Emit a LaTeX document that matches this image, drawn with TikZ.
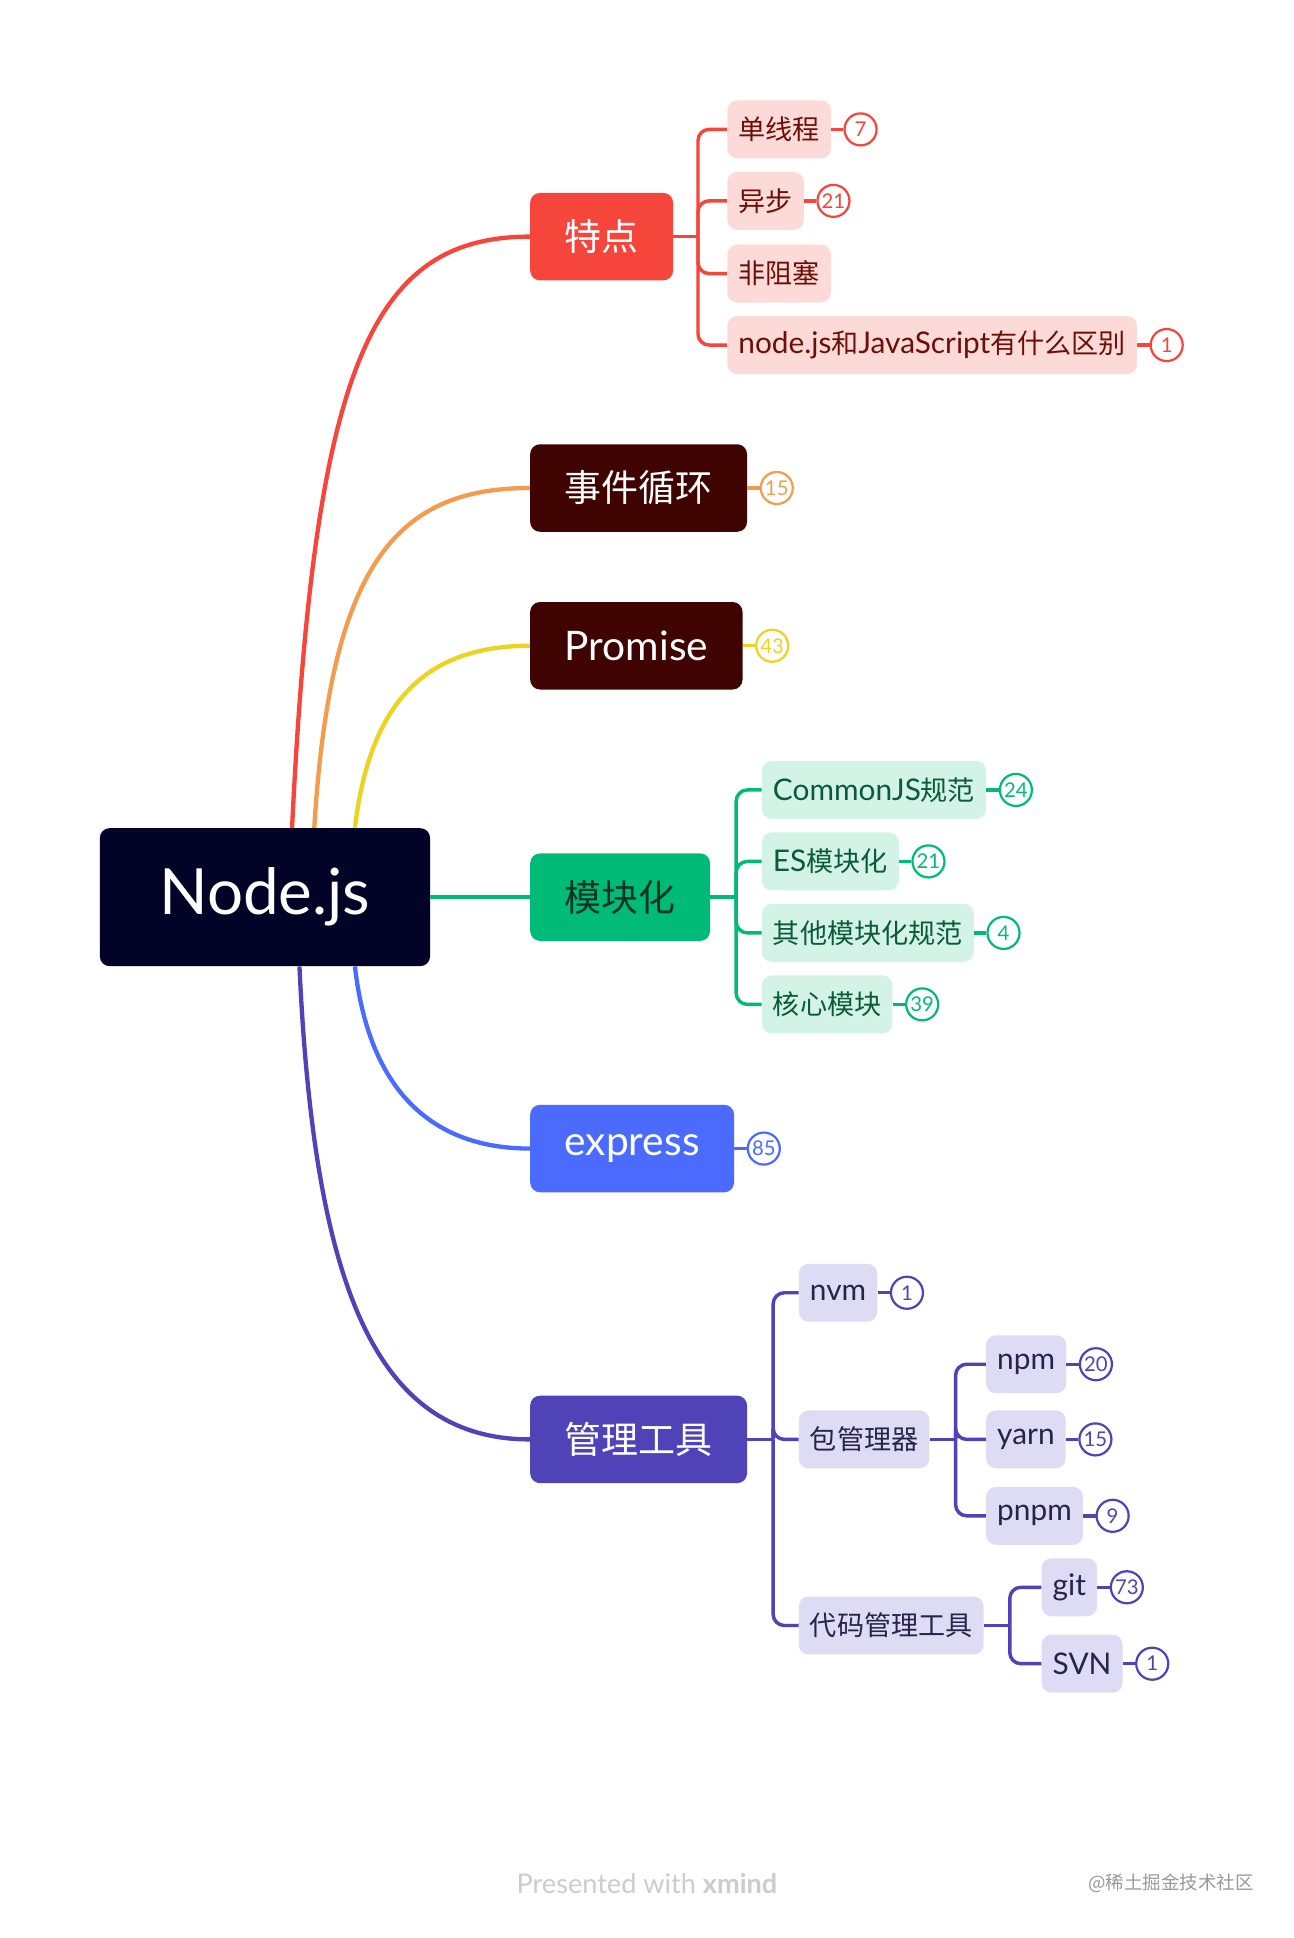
\documentclass[tikz,border=0pt]{standalone}
\usepackage{fontspec}
\setmainfont[Scale=1.1]{Lato}
\newfontfamily\cjk{Noto Sans CJK SC}
\usetikzlibrary{positioning}
\definecolor{rootbg}{HTML}{020427}
\definecolor{redmain}{HTML}{F6453B}
\definecolor{redlite}{HTML}{FCDAD7}
\definecolor{redtext}{HTML}{6E0E08}
\definecolor{orangeline}{HTML}{F39C4E}
\definecolor{yellowline}{HTML}{EDD320}
\definecolor{maroon}{HTML}{3F0401}
\definecolor{greenmain}{HTML}{00BB78}
\definecolor{greenlite}{HTML}{D2F3E5}
\definecolor{greentext}{HTML}{0B5B3B}
\definecolor{greendark}{HTML}{0D3324}
\definecolor{bluemain}{HTML}{4A6BFD}
\definecolor{purplemain}{HTML}{5043B8}
\definecolor{purplelite}{HTML}{DEDBF5}
\definecolor{purpletext}{HTML}{26244A}
\tikzstyle{mainbox}=[rounded corners=8pt, inner xsep=28pt, minimum height=71pt, anchor=west, font=\fontsize{30pt}{36pt}\selectfont]
\tikzstyle{subbox}=[rounded corners=8pt, inner xsep=9pt, minimum height=47pt, anchor=west, font=\fontsize{22pt}{26pt}\selectfont]
\tikzstyle{numbadge}=[circle, draw, line width=1.8pt, fill=white, minimum size=26pt, inner sep=0pt, font=\fontsize{15pt}{15pt}\selectfont]
\tikzstyle{branch}=[draw, line width=3.5pt]
\tikzstyle{twig}=[draw, line width=2.8pt, rounded corners=9pt]

\begin{document}
\begin{tikzpicture}[x=1pt, y=-1pt]

  \fill[white] (0,0) rectangle (1050,1572.6);
  \useasboundingbox (0,0) rectangle (1050,1572.6);

  \node[fill=rootbg, text=white, rounded corners=8pt, minimum width=268pt, minimum height=112pt, font=\fontsize{47pt}{56pt}\selectfont] (nodejs) at (215,728) {Node.js};

  \node[mainbox, fill=redmain, text=white] (tedian) at (430,192) {\cjk 特点};
  \node[mainbox, fill=maroon, text=white] (xunhuan) at (430,396) {\cjk 事件循环};
  \node[mainbox, fill=maroon, text=white] (promise) at (430,524) {Promise};
  \node[mainbox, fill=greenmain, text=greendark] (mokuai) at (430,728) {\cjk 模块化};
  \node[mainbox, fill=bluemain, text=white] (express) at (430,932) {express};
  \node[mainbox, fill=purplemain, text=white] (guanli) at (430,1168) {\cjk 管理工具};

  \draw[branch, redmain] ([xshift=22pt]nodejs.north) .. controls (255,300) and (300,192) .. (tedian.west);
  \draw[branch, orangeline] ([xshift=40pt]nodejs.north) .. controls (268,460) and (320,396) .. (xunhuan.west);
  \draw[branch, yellowline] ([xshift=73pt]nodejs.north) .. controls (300,570) and (345,524) .. (promise.west);
  \draw[branch, greenmain] (nodejs) -- (mokuai);
  \draw[branch, bluemain] ([xshift=73pt]nodejs.south) .. controls (300,890) and (355,932) .. (express.west);
  \draw[branch, purplemain] ([xshift=28pt]nodejs.south) .. controls (255,1045) and (305,1168) .. (guanli.west);

  \node[numbadge, draw=orangeline, text=orangeline, right=10pt of xunhuan] (xunhuan-n) {15};
  \node[numbadge, draw=yellowline, text=yellowline, right=10pt of promise] (promise-n) {43};
  \node[numbadge, draw=bluemain, text=bluemain, right=10pt of express] (express-n) {85};
  \draw[twig, orangeline] (xunhuan) -- (xunhuan-n);
  \draw[twig, yellowline] (promise) -- (promise-n);
  \draw[twig, bluemain] (express) -- (express-n);

  \node[subbox, fill=redlite, text=redtext] (danxian) at (590,105) {\cjk 单线程};
  \node[subbox, fill=redlite, text=redtext] (yibu) at (590,163) {\cjk 异步};
  \node[subbox, fill=redlite, text=redtext] (feizuse) at (590,222) {\cjk 非阻塞};
  \node[subbox, fill=redlite, text=redtext] (qubie) at (590,280) {node.js{\cjk 和}JavaScript{\cjk 有什么区别}};
  \node[numbadge, draw=redmain, text=redmain, right=10pt of danxian] (danxian-n) {7};
  \node[numbadge, draw=redmain, text=redmain, right=10pt of yibu] (yibu-n) {21};
  \node[numbadge, draw=redmain, text=redmain, right=10pt of qubie] (qubie-n) {1};
  \coordinate (tdspine) at ([xshift=20pt]tedian.east);
  \draw[twig, redmain] (tedian) -- (tdspine);
  \foreach \c in {danxian,yibu,feizuse,qubie}
    \draw[twig, redmain] (tdspine) |- (\c.west);
  \foreach \c in {danxian,yibu,qubie}
    \draw[twig, redmain] (\c) -- (\c-n);

  \node[subbox, fill=greenlite, text=greentext] (commonjs) at (618,641) {CommonJS{\cjk 规范}};
  \node[subbox, fill=greenlite, text=greentext] (esmod) at (618,699) {ES{\cjk 模块化}};
  \node[subbox, fill=greenlite, text=greentext] (qita) at (618,757) {\cjk 其他模块化规范};
  \node[subbox, fill=greenlite, text=greentext] (hexin) at (618,815) {\cjk 核心模块};
  \node[numbadge, draw=greenmain, text=greenmain, right=10pt of commonjs] (commonjs-n) {24};
  \node[numbadge, draw=greenmain, text=greenmain, right=10pt of esmod] (esmod-n) {21};
  \node[numbadge, draw=greenmain, text=greenmain, right=10pt of qita] (qita-n) {4};
  \node[numbadge, draw=greenmain, text=greenmain, right=10pt of hexin] (hexin-n) {39};
  \coordinate (mkspine) at ([xshift=21pt]mokuai.east);
  \draw[twig, greenmain] (mokuai) -- (mkspine);
  \foreach \c in {commonjs,esmod,qita,hexin} {
    \draw[twig, greenmain] (mkspine) |- (\c.west);
    \draw[twig, greenmain] (\c) -- (\c-n);
  }

  \node[subbox, fill=purplelite, text=purpletext] (nvm) at (648,1049) {nvm};
  \node[subbox, fill=purplelite, text=purpletext] (baoguanli) at (648,1168) {\cjk 包管理器};
  \node[subbox, fill=purplelite, text=purpletext] (daima) at (648,1319) {\cjk 代码管理工具};
  \node[subbox, fill=purplelite, text=purpletext] (npm) at (800,1107) {npm};
  \node[subbox, fill=purplelite, text=purpletext] (yarn) at (800,1168) {yarn};
  \node[subbox, fill=purplelite, text=purpletext] (pnpm) at (800,1230) {pnpm};
  \node[subbox, fill=purplelite, text=purpletext] (git) at (845,1288) {git};
  \node[subbox, fill=purplelite, text=purpletext] (svn) at (845,1350) {SVN};
  \node[numbadge, draw=purplemain, text=purplemain, right=10pt of nvm] (nvm-n) {1};
  \node[numbadge, draw=purplemain, text=purplemain, right=10pt of npm] (npm-n) {20};
  \node[numbadge, draw=purplemain, text=purplemain, right=10pt of yarn] (yarn-n) {15};
  \node[numbadge, draw=purplemain, text=purplemain, right=10pt of pnpm] (pnpm-n) {9};
  \node[numbadge, draw=purplemain, text=purplemain, right=10pt of git] (git-n) {73};
  \node[numbadge, draw=purplemain, text=purplemain, right=10pt of svn] (svn-n) {1};
  \coordinate (glspine) at ([xshift=21pt]guanli.east);
  \coordinate (bgspine) at ([xshift=21pt]baoguanli.east);
  \coordinate (dmspine) at ([xshift=21pt]daima.east);
  \draw[twig, purplemain] (guanli) -- (glspine);
  \draw[twig, purplemain] (baoguanli) -- (bgspine);
  \draw[twig, purplemain] (daima) -- (dmspine);
  \foreach \c in {nvm,baoguanli,daima}
    \draw[twig, purplemain] (glspine) |- (\c.west);
  \foreach \c in {npm,yarn,pnpm}
    \draw[twig, purplemain] (bgspine) |- (\c.west);
  \foreach \c in {git,svn}
    \draw[twig, purplemain] (dmspine) |- (\c.west);
  \foreach \c in {nvm,npm,yarn,pnpm,git,svn}
    \draw[twig, purplemain] (\c) -- (\c-n);

  \node[text=black!20, font=\fontsize{20pt}{24pt}\selectfont] (credit) at (525,1528) {Presented with \textbf{xmind}};
  \node[anchor=east, text=black!40, font=\fontsize{15pt}{18pt}\selectfont\cjk] (juejin) at (1021,1528) {@稀土掘金技术社区};

\end{tikzpicture}
\end{document}
